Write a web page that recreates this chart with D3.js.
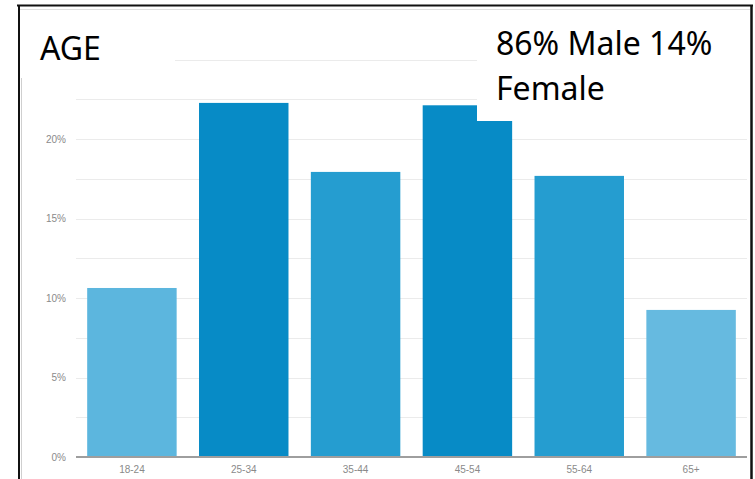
<!DOCTYPE html>
<html>
<head>
<meta charset="utf-8">
<script src="https://cdn.jsdelivr.net/npm/d3@7"></script>
<style>
  html, body { margin: 0; padding: 0; background: #fff; }
  svg { display: block; }
</style>
</head>
<body>
<svg id="chart" width="755" height="479"></svg>
<script>
// ---- data ----
const categories = ["18-24", "25-34", "35-44", "45-54", "55-64", "65+"];
const values = [10.63, 22.27, 17.93, 22.12, 17.68, 9.25];
const barColors = ["#5cb6de", "#078bc6", "#259dd0", "#078bc6", "#259dd0", "#66bae0"];
const gridValues = [2.5, 5, 7.5, 10, 12.5, 15, 17.5, 20, 22.5, 25];
const tickLabels = [0, 5, 10, 15, 20];
const titleText = "AGE";
const noteLines = ["86% Male 14%", "Female"];

const svg = d3.select("#chart");
const W = 755, H = 479;

const x = d3.scaleBand().domain(categories).range([76, 747]).paddingInner(0.2).paddingOuter(0.1);
const y = d3.scaleLinear().domain([0, 25]).range([457, 59.5]);

// gridlines
svg.append("g").selectAll("line").data(gridValues).join("line")
  .attr("x1", 76).attr("x2", 747)
  .attr("y1", d => Math.round(y(d)) + 0.5).attr("y2", d => Math.round(y(d)) + 0.5)
  .attr("stroke", "#ebebeb").attr("stroke-width", 1);

// y tick labels
svg.append("g").selectAll("text").data(tickLabels).join("text")
  .attr("x", 66).attr("y", d => y(d))
  .attr("dy", "0.35em")
  .attr("text-anchor", "end")
  .attr("font-family", "Liberation Sans, Arial, sans-serif")
  .attr("font-size", 10)
  .attr("fill", "#8a8a8a")
  .text(d => d + "%");

// bars
svg.append("g").selectAll("rect").data(categories).join("rect")
  .attr("x", d => x(d))
  .attr("width", x.bandwidth())
  .attr("y", (d, i) => y(values[i]))
  .attr("height", (d, i) => y(0) - y(values[i]))
  .attr("fill", (d, i) => barColors[i]);

// baseline axis
svg.append("line")
  .attr("x1", 76).attr("x2", 747)
  .attr("y1", y(0)).attr("y2", y(0))
  .attr("stroke", "#9e9e9e").attr("stroke-width", 2);

// x labels
const xAxis = d3.axisBottom(x).tickSize(0).tickPadding(0);
const gx = svg.append("g").attr("transform", `translate(0,${y(0)})`).call(xAxis);
gx.select(".domain").remove();
gx.selectAll("text")
  .attr("y", 16).attr("dy", 0)
  .attr("font-family", "Liberation Sans, Arial, sans-serif")
  .attr("font-size", 10)
  .attr("fill", "#8a8a8a");

// overlay boxes (text boxes pasted on the screenshot)
svg.append("rect").attr("x", 21).attr("y", 10).attr("width", 154).attr("height", 68).attr("fill", "#fff");
svg.append("rect").attr("x", 477).attr("y", 10).attr("width", 273).attr("height", 111).attr("fill", "#fff");

// frame
svg.append("line").attr("x1", 20).attr("x2", 750).attr("y1", 9.5).attr("y2", 9.5).attr("stroke", "#e0e0e0").attr("stroke-width", 1);
svg.append("line").attr("x1", 21.5).attr("x2", 21.5).attr("y1", 78).attr("y2", H).attr("stroke", "#cfcfcf").attr("stroke-width", 1);
svg.append("line").attr("x1", 17).attr("x2", 753).attr("y1", 5.5).attr("y2", 5.5).attr("stroke", "#111").attr("stroke-width", 2);
svg.append("line").attr("x1", 19).attr("x2", 19).attr("y1", 5).attr("y2", H).attr("stroke", "#111").attr("stroke-width", 2);
svg.append("line").attr("x1", 751.5).attr("x2", 751.5).attr("y1", 5).attr("y2", H).attr("stroke", "#111").attr("stroke-width", 2.5);

// title
svg.append("text")
  .attr("x", 40).attr("y", 60)
  .attr("font-family", "Noto Sans, sans-serif")
  .attr("font-size", 32)
  .attr("fill", "#000")
  .text(titleText);

// note
svg.append("text")
  .attr("font-family", "Noto Sans, sans-serif")
  .attr("font-size", 32)
  .attr("fill", "#000")
  .selectAll("tspan").data(noteLines).join("tspan")
  .attr("x", 496)
  .attr("y", (d, i) => 55 + i * 45)
  .text(d => d);
</script>
</body>
</html>
